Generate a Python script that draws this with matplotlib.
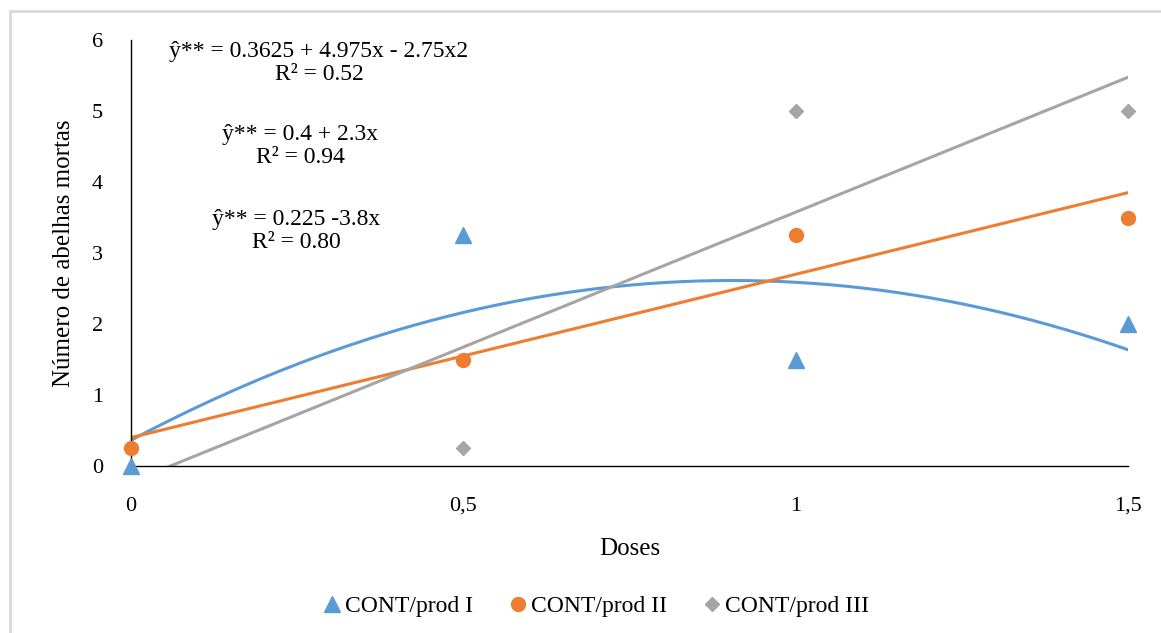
import numpy as np
import matplotlib
matplotlib.use("Agg")
import matplotlib.pyplot as plt
from matplotlib.patches import Rectangle

doses = [0, 0.5, 1, 1.5]
prod_I = [0, 3.25, 1.5, 2.0]
prod_II = [0.25, 1.5, 3.25, 3.5]
prod_III = [0.25, 0.25, 5.0, 5.0]
labels = ["CONT/prod I", "CONT/prod II", "CONT/prod III"]
xtick_labels = ["0", "0,5", "1", "1,5"]
eq_texts = ["ŷ** = 0.3625 + 4.975x - 2.75x2\nR² = 0.52",
            "ŷ** = 0.4 + 2.3x\nR² = 0.94",
            "ŷ** = 0.225 -3.8x\nR² = 0.80"]

c_blue = "#5B9BD5"
c_orange = "#ED7D31"
c_gray = "#A5A5A5"

plt.rcParams['font.family'] = ['Liberation Serif', 'DejaVu Serif']

W, H = 1161, 633
fig = plt.figure(figsize=(W/100, H/100), dpi=100)
fig.patches.append(Rectangle((9.5/W, -0.1), 1.2, 1 - 11.5/H + 0.1, transform=fig.transFigure,
                             fill=False, edgecolor="#D9D9D9", linewidth=2, zorder=0))

ax = fig.add_axes([131/W, 1 - 466/H, (1128-131)/W, (466-40)/H])
ax.set_xlim(0, 1.5)
ax.set_ylim(0, 6)

x = np.array(doses)
xs = np.linspace(0, 1.5, 300)
# trendlines
p1 = np.polyfit(x, prod_I, 2)
p2 = np.polyfit(x, prod_II, 1)
p3 = np.polyfit(x, prod_III, 1)
ax.plot(xs, np.polyval(p1, xs), color=c_blue, lw=2.2, zorder=2)
ax.plot(xs, np.polyval(p2, xs), color=c_orange, lw=2.2, zorder=2)
ax.plot(xs, np.polyval(p3, xs), color=c_gray, lw=2.2, zorder=2)

ax.plot(doses, prod_III, linestyle="none", marker="D", color=c_gray, ms=7, label=labels[2], zorder=3, clip_on=False)
ax.plot(doses, prod_II, linestyle="none", marker="o", color=c_orange, ms=10, label=labels[1], zorder=3, clip_on=False)
ax.plot(doses, prod_I, linestyle="none", marker="^", color=c_blue, ms=11, label=labels[0], zorder=4, clip_on=False)

for s in ["top", "right"]:
    ax.spines[s].set_visible(False)
for s in ["left", "bottom"]:
    ax.spines[s].set_color("black")
    ax.spines[s].set_linewidth(1.0)

ax.set_xticks(doses)
ax.set_xticklabels(xtick_labels)
ax.set_yticks(range(0, 7))
ax.tick_params(axis="both", length=0, labelsize=16)
ax.tick_params(axis="y", pad=20)
ax.tick_params(axis="x", pad=22)

ax.set_xlabel("Doses", fontsize=18, labelpad=16)
ax.set_ylabel("Número de abelhas mortas", fontsize=18, labelpad=12)

eq_pos = [(319, 63), (300, 146), (296, 231)]
for (px, py), t in zip(eq_pos, eq_texts):
    fig.text(px/W, 1 - py/H, t, ha="center", va="center", fontsize=17, linespacing=1.1)

handles, labs = ax.get_legend_handles_labels()
order = [labs.index(l) for l in labels]
fig.legend([handles[i] for i in order], [labs[i] for i in order], loc="center",
           bbox_to_anchor=(595/W, 1 - 606/H), ncol=3, frameon=False, fontsize=17,
           handletextpad=0.05, columnspacing=1.4, handlelength=1.0)

fig.savefig("out.png", dpi=100)
